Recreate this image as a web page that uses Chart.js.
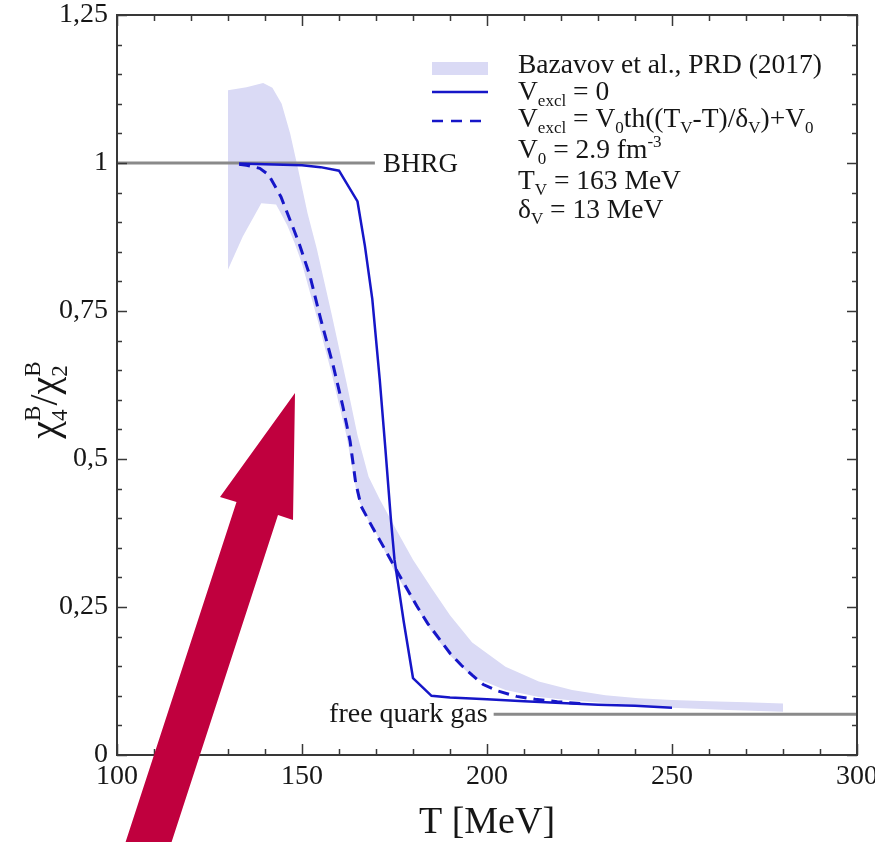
<!DOCTYPE html>
<html>
<head>
<meta charset="utf-8">
<script src="https://cdn.jsdelivr.net/npm/chart.js@4.4.1/dist/chart.umd.min.js"></script>
<style>
html,body{margin:0;padding:0;background:#fff;overflow:hidden}
#c{display:block}
</style>
</head>
<body>
<canvas id="c" width="875" height="842"></canvas>
<script>
// ---- data ----
const xTickVals = [100, 150, 200, 250, 300];
const yTickVals = [0, 0.25, 0.5, 0.75, 1, 1.25];

// Bazavov et al. lattice band (upper / lower edges)
const bandUpT = [130, 135, 139.5, 142, 144.5, 146.8, 149, 151.5, 154, 158, 162, 165, 168, 171, 175, 180, 185, 190, 196, 205, 214, 223, 232, 241, 250, 260, 270, 280];
const bandUpV = [1.123, 1.128, 1.135, 1.127, 1.10, 1.05, 0.988, 0.915, 0.855, 0.745, 0.63, 0.54, 0.47, 0.432, 0.386, 0.33, 0.282, 0.236, 0.19, 0.149, 0.124, 0.11, 0.101, 0.096, 0.093, 0.091, 0.089, 0.087];
const bandLoT = [130, 134, 139, 143, 146, 148, 150, 154, 158, 162, 165, 168, 170, 175, 180, 185, 190, 196, 205, 214, 223, 232, 241, 250, 265, 280];
const bandLoV = [0.82, 0.876, 0.932, 0.93, 0.895, 0.865, 0.83, 0.74, 0.645, 0.54, 0.435, 0.395, 0.375, 0.31, 0.258, 0.208, 0.168, 0.132, 0.11, 0.098, 0.092, 0.088, 0.084, 0.08, 0.076, 0.073];

// V_excl = 0 (solid)
const solidT = [133, 140, 150, 155, 160, 165, 167, 169, 171, 172.5, 174, 175, 177.5, 180, 185, 190, 200, 210, 220, 230, 240, 250];
const solidV = [0.999, 0.998, 0.996, 0.993, 0.987, 0.935, 0.86, 0.77, 0.635, 0.52, 0.40, 0.33, 0.225, 0.13, 0.100, 0.097, 0.094, 0.091, 0.088, 0.085, 0.083, 0.080];

// V_excl(T) (dashed)
const dashT = [133, 135, 138.6, 141, 144.3, 147.7, 149.5, 152.2, 154.9, 158.5, 161, 163, 164.5, 166, 169, 172, 175, 178, 181, 184, 187, 190, 193, 196, 199, 203, 208, 213, 219, 227];
const dashV = [0.998, 0.996, 0.991, 0.98, 0.943, 0.889, 0.859, 0.808, 0.74, 0.656, 0.59, 0.53, 0.46, 0.42, 0.385, 0.352, 0.318, 0.285, 0.252, 0.222, 0.197, 0.172, 0.152, 0.135, 0.119, 0.108, 0.099, 0.094, 0.09, 0.086];

// reference limits
const bhrgT = [100, 169.7];
const bhrgV = [1, 1];
const fqgT = [201.8, 300];
const fqgV = [0.069, 0.069];

const pts = (xs, ys) => xs.map((x, i) => ({x: x, y: ys[i]}));

const BLUE = '#1616c8';
const BAND = '#dadaf5';
const GRAY = '#8a8a8a';
const INK = '#161616';
const SERIF = '"Liberation Serif", "Times New Roman", serif';

function drawRich(ctx, x, y, parts, base, align) {
  const subS = Math.round(base * 0.62);
  const ssS = Math.round(base * 0.58);
  const segs = parts.map(p => {
    const kind = p[1];
    let size = base, dy = 0, w;
    if (kind === 'sub') { size = subS; dy = base * 0.22; }
    if (kind === 'sup') { size = subS; dy = -base * 0.40; }
    if (kind === 'ss') {
      size = ssS;
      ctx.font = size + 'px ' + SERIF;
      w = Math.max(ctx.measureText(p[0][0]).width, ctx.measureText(p[0][1]).width);
    } else {
      ctx.font = size + 'px ' + SERIF;
      w = ctx.measureText(p[0]).width;
    }
    return {p, size, dy, w, kind};
  });
  const total = segs.reduce((a, s) => a + s.w, 0);
  let cx = align === 'center' ? x - total / 2 : x;
  ctx.textAlign = 'left';
  ctx.textBaseline = 'alphabetic';
  for (const s of segs) {
    ctx.font = s.size + 'px ' + SERIF;
    if (s.kind === 'ss') {
      ctx.fillText(s.p[0][0], cx, y + base * 0.25);
      ctx.fillText(s.p[0][1], cx, y - base * 0.42);
    } else {
      ctx.fillText(s.p[0], cx, y + s.dy);
    }
    cx += s.w;
  }
}

const decor = {
  id: 'decor',
  afterDraw(chart) {
    const ctx = chart.ctx;
    const xs = chart.scales.x, ys = chart.scales.y;
    const a = chart.chartArea;
    ctx.save();
    // frame
    ctx.strokeStyle = '#383838';
    ctx.lineWidth = 2;
    ctx.strokeRect(a.left, a.top, a.right - a.left, a.bottom - a.top);
    // inward ticks
    ctx.lineWidth = 1.5;
    ctx.beginPath();
    for (let v = 100; v <= 300.001; v += 10) {
      const px = Math.round(xs.getPixelForValue(v)) + 0.5;
      const L = (Math.round(v) % 50 === 0) ? 11 : 6;
      ctx.moveTo(px, a.bottom); ctx.lineTo(px, a.bottom - L);
      ctx.moveTo(px, a.top); ctx.lineTo(px, a.top + L);
    }
    for (let k = 0; k <= 25; k++) {
      const v = k * 0.05;
      const py = Math.round(ys.getPixelForValue(v)) + 0.5;
      const L = (k % 5 === 0) ? 10 : 5;
      ctx.moveTo(a.left, py); ctx.lineTo(a.left + L, py);
      ctx.moveTo(a.right, py); ctx.lineTo(a.right - L, py);
    }
    ctx.stroke();

    ctx.fillStyle = INK;
    // curve labels
    ctx.font = '27px ' + SERIF;
    ctx.textAlign = 'left';
    ctx.textBaseline = 'alphabetic';
    ctx.fillText('BHRG', xs.getPixelForValue(bhrgT[1]) + 8, ys.getPixelForValue(1) + 9);
    ctx.font = '28px ' + SERIF;
    ctx.textAlign = 'right';
    ctx.fillText('free quark gas', xs.getPixelForValue(fqgT[0]) - 6, ys.getPixelForValue(fqgV[0]) + 8);

    // legend
    const lx0 = 432, lx1 = 488;
    ctx.fillStyle = BAND;
    ctx.fillRect(lx0, 62, lx1 - lx0, 13);
    ctx.strokeStyle = BLUE;
    ctx.lineWidth = 2.5;
    ctx.beginPath(); ctx.moveTo(lx0, 92); ctx.lineTo(lx1, 92); ctx.stroke();
    ctx.setLineDash([11, 8]);
    ctx.beginPath(); ctx.moveTo(lx0, 121); ctx.lineTo(lx1, 121); ctx.stroke();
    ctx.setLineDash([]);
    ctx.fillStyle = INK;
    const tx = 518, B = 27.5;
    drawRich(ctx, tx, 73, [['Bazavov et al., PRD (2017)', 'n']], B);
    drawRich(ctx, tx, 100, [['V', 'n'], ['excl', 'sub'], [' = 0', 'n']], B);
    drawRich(ctx, tx, 127, [['V', 'n'], ['excl', 'sub'], [' = V', 'n'], ['0', 'sub'], ['th((T', 'n'], ['V', 'sub'], ['-T)/δ', 'n'], ['V', 'sub'], [')+V', 'n'], ['0', 'sub']], B);
    drawRich(ctx, tx, 158, [['V', 'n'], ['0', 'sub'], [' = 2.9 fm', 'n'], ['-3', 'sup']], B);
    drawRich(ctx, tx, 189, [['T', 'n'], ['V', 'sub'], [' = 163 MeV', 'n']], B);
    drawRich(ctx, tx, 218, [['δ', 'n'], ['V', 'sub'], [' = 13 MeV', 'n']], B);

    // y-axis title
    ctx.save();
    ctx.translate(57, 400);
    ctx.rotate(-Math.PI / 2);
    drawRich(ctx, 0, 0, [['χ', 'n'], [['4', 'B'], 'ss'], ['/', 'n'], ['χ', 'n'], [['2', 'B'], 'ss']], 40, 'center');
    ctx.restore();

    // red arrow annotation
    ctx.fillStyle = '#c0003e';
    ctx.beginPath();
    ctx.moveTo(295, 393);
    ctx.lineTo(293, 520);
    ctx.lineTo(278, 515);
    ctx.lineTo(169, 850);
    ctx.lineTo(123, 850);
    ctx.lineTo(236.5, 502);
    ctx.lineTo(220, 497);
    ctx.closePath();
    ctx.fill();
    ctx.restore();
  }
};

Chart.defaults.font.family = SERIF;

new Chart(document.getElementById('c'), {
  type: 'line',
  data: {
    datasets: [
      {label: 'band-up', data: pts(bandUpT, bandUpV), borderWidth: 0, pointRadius: 0, backgroundColor: BAND, borderColor: BAND, fill: '+1', order: 10},
      {label: 'band-lo', data: pts(bandLoT, bandLoV), borderWidth: 0, pointRadius: 0, backgroundColor: BAND, borderColor: BAND, fill: false, order: 11},
      {label: 'BHRG', data: pts(bhrgT, bhrgV), borderColor: GRAY, borderWidth: 3, pointRadius: 0, fill: false, order: 5},
      {label: 'free quark gas', data: pts(fqgT, fqgV), borderColor: GRAY, borderWidth: 3, pointRadius: 0, fill: false, order: 5},
      {label: 'Vexcl = 0', data: pts(solidT, solidV), borderColor: BLUE, borderWidth: 2.5, pointRadius: 0, fill: false, order: 2},
      {label: 'Vexcl(T)', data: pts(dashT, dashV), borderColor: BLUE, borderWidth: 3, borderDash: [11, 7], pointRadius: 0, fill: false, order: 1}
    ]
  },
  options: {
    responsive: false,
    animation: false,
    devicePixelRatio: 1,
    layout: {padding: {left: 0, right: 18, top: 15, bottom: 0}},
    plugins: {
      legend: {display: false},
      tooltip: {enabled: false},
      filler: {drawTime: 'beforeDatasetsDraw'}
    },
    scales: {
      x: {
        type: 'linear', min: 100, max: 300, position: 'bottom',
        grid: {display: false, drawTicks: false},
        border: {display: false},
        afterBuildTicks: s => { s.ticks = xTickVals.map(v => ({value: v})); },
        ticks: {font: {family: SERIF, size: 28}, color: INK, padding: 5, maxRotation: 0, autoSkip: false,
                callback: v => String(v)},
        title: {display: true, text: 'T [MeV]', color: INK, font: {family: SERIF, size: 38, lineHeight: 1}, padding: {top: 0, bottom: 0}},
        afterFit: s => { s.height = 87; s.paddingLeft = 0; s.paddingRight = 0; }
      },
      y: {
        type: 'linear', min: 0, max: 1.25,
        grid: {display: false, drawTicks: false},
        border: {display: false},
        afterBuildTicks: s => { s.ticks = yTickVals.map(v => ({value: v})); },
        ticks: {font: {family: SERIF, size: 28}, color: INK, padding: 9,
                callback: v => String(v).replace('.', ',')},
        afterFit: s => { s.width = 117; s.paddingTop = 0; s.paddingBottom = 0; }
      }
    }
  },
  plugins: [decor]
});
</script>
</body>
</html>
